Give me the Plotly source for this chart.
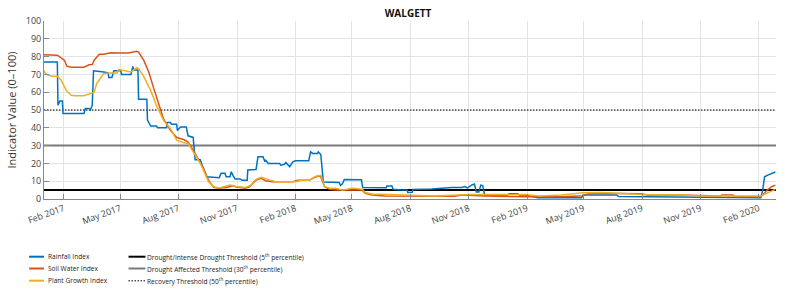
import plotly.graph_objects as go

# ---------------- data ----------------
rain_dates = ["2017-01-01","2017-01-22","2017-01-23","2017-01-26","2017-01-30","2017-01-31","2017-03-05","2017-03-07",
    "2017-03-13","2017-03-15","2017-03-18","2017-03-20","2017-04-05","2017-04-12","2017-04-13","2017-04-18","2017-04-21",
    "2017-05-02","2017-05-03","2017-05-18","2017-05-21","2017-05-22","2017-05-29","2017-05-30","2017-06-12","2017-06-13",
    "2017-06-18","2017-06-27","2017-06-29","2017-07-13","2017-07-14","2017-07-19","2017-07-21","2017-07-29","2017-07-30",
    "2017-08-04","2017-08-13","2017-08-16","2017-08-24","2017-08-27","2017-09-04","2017-09-09","2017-09-14","2017-10-04",
    "2017-10-07","2017-10-13","2017-10-15","2017-10-21","2017-10-23","2017-10-26","2017-10-29","2017-11-06","2017-11-09",
    "2017-11-17","2017-11-18","2017-12-01","2017-12-04","2017-12-12","2017-12-15","2017-12-16","2017-12-20","2018-01-07",
    "2018-01-09","2018-01-15","2018-01-17","2018-01-23","2018-01-28","2018-02-01","2018-02-22","2018-02-25","2018-02-28",
    "2018-03-08","2018-03-09","2018-03-13","2018-03-16","2018-03-17","2018-04-11","2018-04-13","2018-04-16","2018-04-19",
    "2018-05-16","2018-05-18","2018-06-24","2018-06-25","2018-07-03","2018-07-05","2018-07-14","2018-07-27","2018-07-28",
    "2018-08-04","2018-08-05","2018-09-04","2018-10-05","2018-10-21","2018-10-26","2018-10-30","2018-11-06","2018-11-10",
    "2018-11-13","2018-11-17","2018-11-20","2018-11-23","2018-11-26","2019-01-01","2019-01-04","2019-01-17","2019-01-20",
    "2019-01-29","2019-02-18","2019-04-28","2019-04-30","2019-06-22","2019-06-25","2019-07-30","2019-08-19","2019-09-30",
    "2020-02-04","2020-02-07","2020-02-10","2020-02-15","2020-02-21","2020-02-27"]
rain_vals = [77,77,52.7,55,55,48,48,50.8,
    50.8,50,52.7,72,71.4,70.8,68.3,68.3,72,
    72,70,70,74.5,72.5,72.5,56,56,44.3,
    41,41,40,40,43,43,42,42,38.5,
    40.5,40.5,35.5,34.6,22,22,17,12.5,12,
    14.4,14.4,12.5,12.5,15.3,13,11.3,11.3,10.5,
    10.5,16.3,16.6,23.7,23.7,20.9,22,20,20,
    19,19.5,20.5,18.1,20.9,21.5,21.5,26.5,25.6,
    25.6,26.5,25,10.5,9.5,9.3,7.7,8.5,11,
    10.8,6.4,6.3,7.3,7.3,5.5,5.2,5,3.7,
    3.8,5.4,5.6,6.5,6.5,7,6.2,7.9,8.4,
    4,4,7.8,7.5,2.3,2.3,2.9,2.9,2.2,
    2.2,0.7,0.7,2.3,2.3,1.4,1.3,1.0,0.7,
    0.7,5,12.5,13.4,14.3,15.2]

soil_dates = ["2017-01-01","2017-01-22","2017-02-02","2017-02-06","2017-02-13","2017-03-05","2017-03-13","2017-03-18",
    "2017-03-21","2017-03-29","2017-04-05","2017-04-16","2017-04-29","2017-05-14","2017-05-27","2017-05-30","2017-06-07",
    "2017-06-15","2017-06-23","2017-07-01","2017-07-08","2017-07-19","2017-07-29","2017-08-09","2017-08-16","2017-08-24",
    "2017-09-01","2017-09-09","2017-09-17","2017-09-25","2017-10-03","2017-10-15","2017-10-26","2017-10-31","2017-11-15",
    "2017-11-21","2017-12-01","2017-12-09","2017-12-16","2017-12-27","2018-01-28","2018-02-05","2018-02-23","2018-03-05",
    "2018-03-11","2018-03-13","2018-03-19","2018-03-27","2018-04-05","2018-04-27","2018-05-02","2018-05-08","2018-05-17",
    "2018-05-22","2018-06-02","2018-06-22","2018-07-19","2018-08-19","2018-10-10","2018-10-21","2018-11-01","2018-11-26",
    "2019-01-28","2019-03-27","2019-04-30","2019-05-08","2019-05-23","2019-07-19","2019-07-30","2019-08-10","2019-09-30",
    "2019-12-02","2019-12-05","2019-12-22","2019-12-25","2020-02-04","2020-02-07","2020-02-13","2020-02-21","2020-02-27"]
soil_vals = [81,80.8,78,74.6,74,74,75.4,75.5,
    78,81.3,81.3,82.2,82,82,83,82.5,78,
    71.4,62,53.6,45.2,38.6,34.5,33.4,32,27.4,
    22,17.2,10.6,6.5,6,6.5,7.5,6.7,6,
    6.9,10.6,11.6,10.3,9.7,9.7,10.6,10.6,12.4,
    13,12.3,6.9,5.4,5,5,5.4,5,5,
    3.2,2.3,1.7,1.7,1.4,1.5,2.2,2,1.7,
    1.3,1.3,1.8,2.9,3.3,3.3,2.9,2.2,2.2,
    1.7,2.2,2.2,1.3,1.3,2.2,4.6,6.9,7.8]

plant_dates = ["2017-01-01","2017-01-05","2017-01-13","2017-01-22","2017-01-28","2017-02-05","2017-02-13","2017-02-18",
    "2017-03-05","2017-03-16","2017-03-21","2017-03-25","2017-04-01","2017-04-05","2017-04-16","2017-04-26","2017-04-29",
    "2017-05-07","2017-05-18","2017-05-27","2017-05-30","2017-06-07","2017-06-18","2017-06-27","2017-07-08","2017-07-19",
    "2017-07-29","2017-08-09","2017-08-16","2017-08-24","2017-09-04","2017-09-09","2017-09-17","2017-09-25","2017-10-03",
    "2017-10-21","2017-10-31","2017-11-15","2017-11-23","2017-12-01","2017-12-09","2017-12-23","2018-01-01","2018-02-01",
    "2018-02-12","2018-02-23","2018-03-05","2018-03-13","2018-03-19","2018-03-27","2018-04-05","2018-04-16","2018-05-02",
    "2018-05-17","2018-05-22","2018-06-02","2018-07-19","2018-09-09","2018-11-01","2019-01-28","2019-02-20","2019-03-27",
    "2019-04-30","2019-05-28","2019-06-24","2019-07-30","2019-10-05","2019-11-01","2020-02-04","2020-02-13","2020-02-27"]
plant_vals = [72,70,69,69,66.7,61,58.3,58,
    58,59.2,60,64.8,68.9,70.5,70.8,70.8,72.7,
    72.3,71.4,73.8,73.2,68.9,61,52.7,44.3,39.6,
    33,31.6,31.2,26.5,20.1,16.3,9.8,7,6,
    7.9,7,6.5,7.9,11,12.2,10.6,9.7,9.7,
    10.6,10.6,12.8,13.3,6.9,6,6,5,6,
    5.5,3.6,2.8,2.4,1.7,2.5,2.5,1.7,2.3,
    3.5,3.7,3.3,2.5,2.3,1.7,1.7,3,5.4]

series_names = ["Rainfall Index", "Soil Water Index", "Plant Growth Index"]
series_colors = ["#0072BD", "#D95319", "#EDB120"]

threshold_values = [5, 30, 50]
threshold_names = ["Drought/Intense Drought Threshold (5<sup>th</sup> percentile)",
                   "Drought Affected Threshold (30<sup>th</sup> percentile)",
                   "Recovery Threshold (50<sup>th</sup> percentile)"]
threshold_colors = ["#000000", "#7a7a7a", "#444444"]
threshold_widths = [2, 2, 1.4]
threshold_dash = ["solid", "solid", "1.4px,1.6px"]

x_range = ["2017-01-01", "2020-02-28"]
title_text = "WALGETT"
y_title = "Indicator Value (0\u2013100)"

# ---------------- layout geometry ----------------
W, H = 800, 296
ML, MR, MT, MB = 40, 24, 21, 97
PW, PH = W - ML - MR, H - MT - MB
FONT = "Open Sans"

def px_x(px):
    return (px - ML) / PW

def px_y(py):
    return (H - MB - py) / PH

fig = go.Figure()

for val, name, col, wd, ds in zip(threshold_values, threshold_names, threshold_colors, threshold_widths, threshold_dash):
    fig.add_trace(go.Scatter(x=x_range, y=[val, val], mode="lines", name=name,
                             line=dict(color=col, width=wd, dash=ds), showlegend=False, hoverinfo="skip"))

for d, v, name, col in zip([rain_dates, soil_dates, plant_dates],
                           [rain_vals, soil_vals, plant_vals],
                           series_names, series_colors):
    fig.add_trace(go.Scatter(x=d, y=v, mode="lines", name=name,
                             line=dict(color=col, width=1.5), showlegend=False))

# ---------------- manual legend ----------------
rows_py = [256.7, 268.5, 280.7]
LFS = 6.6
for i, (name, col) in enumerate(zip(series_names, series_colors)):
    yy = px_y(rows_py[i])
    fig.add_shape(type="line", xref="paper", yref="paper", x0=px_x(25), x1=px_x(40), y0=yy, y1=yy,
                  line=dict(color=col, width=2))
    fig.add_annotation(xref="paper", yref="paper", x=px_x(42), y=yy, text=name, showarrow=False,
                       xanchor="left", yanchor="middle", font=dict(family=FONT, size=LFS, color="#222"))
for i, (name, col, wd, ds) in enumerate(zip(threshold_names, threshold_colors, threshold_widths, threshold_dash)):
    yy = px_y(rows_py[i])
    fig.add_shape(type="line", xref="paper", yref="paper", x0=px_x(125), x1=px_x(142), y0=yy, y1=yy,
                  line=dict(color=col, width=wd, dash=ds))
    fig.add_annotation(xref="paper", yref="paper", x=px_x(142), y=yy, text=name, showarrow=False,
                       xanchor="left", yanchor="middle", font=dict(family=FONT, size=LFS, color="#222"))

fig.update_layout(
    width=W, height=H, autosize=False,
    margin=dict(l=ML, r=MR, t=MT, b=MB, pad=0),
    paper_bgcolor="white", plot_bgcolor="white",
    font=dict(family=FONT, size=9, color="#333"),
    title=dict(text="<b>" + title_text + "</b>", x=px_x(406), xref="paper", xanchor="center",
               y=1 - 13.5 / H, yref="container", yanchor="middle",
               font=dict(family=FONT, size=10, color="#111")),
    showlegend=False,
)
fig.update_xaxes(range=x_range, type="date", tick0="2017-02-01", dtick="M3", tickformat="%b %Y",
                 tickangle=-20, tickfont=dict(family=FONT, size=9, color="#444"),
                 showgrid=True, gridcolor="#e3e3e3", gridwidth=1,
                 showline=True, linecolor="#888", linewidth=1,
                 ticks="inside", ticklen=5, tickcolor="#888", zeroline=False)
fig.update_yaxes(range=[0, 100], dtick=10, tickfont=dict(family=FONT, size=9, color="#444"),
                 title=dict(text=y_title, font=dict(family=FONT, size=11, color="#333"), standoff=6),
                 showgrid=True, gridcolor="#e3e3e3", gridwidth=1,
                 showline=True, linecolor="#888", linewidth=1,
                 ticks="inside", ticklen=5, tickcolor="#888", zeroline=False)

fig.write_html("out.html")
